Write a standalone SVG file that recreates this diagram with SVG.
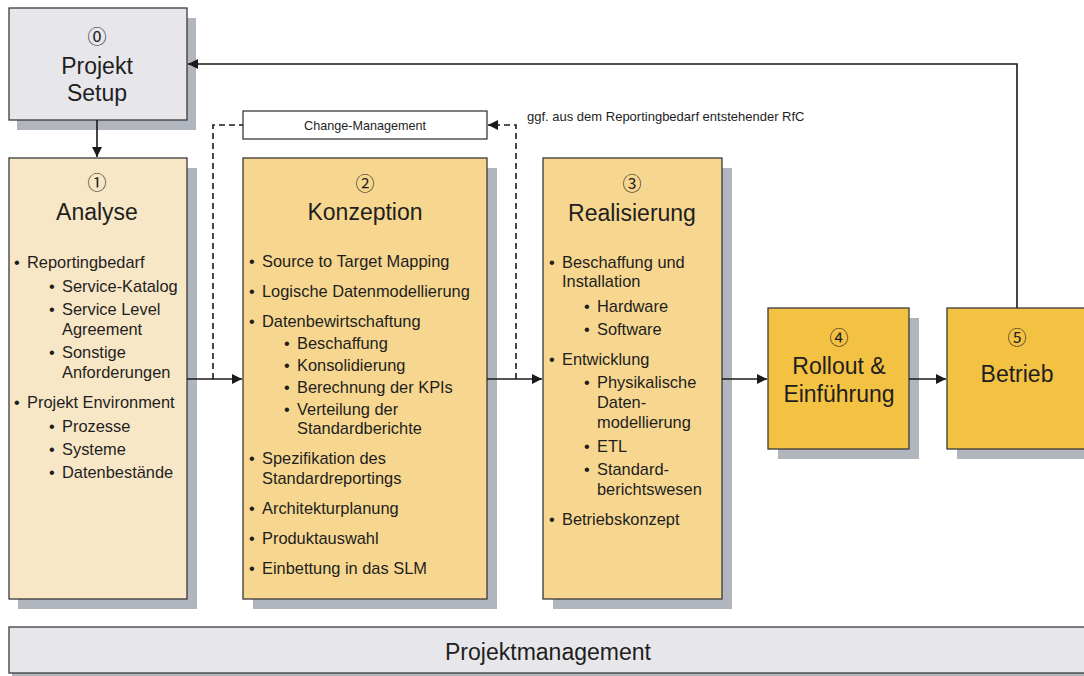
<svg xmlns="http://www.w3.org/2000/svg" width="1084" height="676" viewBox="0 0 1084 676">
<defs>
<marker id="ah" viewBox="0 0 10 10" refX="10" refY="5" markerWidth="10" markerHeight="10" markerUnits="userSpaceOnUse" orient="auto">
<path d="M0,0 L10,5 L0,10 z" fill="#1a1a1a"/>
</marker>
<style>
.box{stroke:#3a3a3a;stroke-width:1.3}
.sh{fill:#b1b5bd}
.grey{fill:#e7e7eb}
.light{fill:#f8e7c6}
.mid{fill:#f7d78f}
.dark{fill:#f4c243}
.t{font-family:"Liberation Sans",Arial,sans-serif;fill:#1e1e1e}
.title{font-size:23px;text-anchor:middle}
.num{font-family:"Noto Sans CJK JP","DejaVu Sans",sans-serif;font-size:19px;text-anchor:middle;fill:#1e1e1e}
.li{font-size:16.4px}
.small{font-size:12.6px}
.conn{stroke:#1a1a1a;stroke-width:1.6;fill:none}
.dash{stroke-dasharray:6,4}
</style>
</defs>
<rect width="1084" height="676" fill="#ffffff"/>

<g id="projekt-setup">
<rect class="sh" x="17" y="18" width="179" height="112"/>
<rect class="box grey" x="9" y="8" width="178" height="112"/>
<text class="num" x="97" y="44">⓪</text>
<text class="t title" x="97" y="74">Projekt</text>
<text class="t title" x="97" y="101">Setup</text>
</g>

<g id="change-management">
<rect class="box" x="243" y="111" width="244" height="28" fill="#ffffff"/>
<text class="t small" x="365" y="130" text-anchor="middle">Change-Management</text>
</g>

<g id="rfc-note">
<text class="t" x="527" y="121" font-size="13px">ggf. aus dem Reportingbedarf entstehender RfC</text>
</g>

<g id="analyse">
<rect class="sh" x="18" y="168" width="179" height="441"/>
<rect class="box light" x="9" y="158" width="178" height="441"/>
<text class="num" x="97" y="190">①</text>
<text class="t title" x="97" y="220">Analyse</text>
<g class="t li">
<text x="14" y="268">•</text><text x="27" y="268">Reportingbedarf</text>
<text x="49" y="292">•</text><text x="62" y="292">Service-Katalog</text>
<text x="49" y="315">•</text><text x="62" y="315">Service Level</text>
<text x="62" y="335">Agreement</text>
<text x="49" y="358">•</text><text x="62" y="358">Sonstige</text>
<text x="62" y="378">Anforderungen</text>
<text x="14" y="408">•</text><text x="27" y="408">Projekt Environment</text>
<text x="49" y="432">•</text><text x="62" y="432">Prozesse</text>
<text x="49" y="455">•</text><text x="62" y="455">Systeme</text>
<text x="49" y="478">•</text><text x="62" y="478">Datenbestände</text>
</g>
</g>

<g id="konzeption">
<rect class="sh" x="253" y="168" width="244" height="441"/>
<rect class="box mid" x="243" y="158" width="244" height="441"/>
<text class="num" x="365" y="191">②</text>
<text class="t title" x="365" y="220">Konzeption</text>
<g class="t li">
<text x="249" y="267">•</text><text x="262" y="267">Source to Target Mapping</text>
<text x="249" y="297">•</text><text x="262" y="297">Logische Datenmodellierung</text>
<text x="249" y="327">•</text><text x="262" y="327">Datenbewirtschaftung</text>
<text x="284" y="349">•</text><text x="297" y="349">Beschaffung</text>
<text x="284" y="371">•</text><text x="297" y="371">Konsolidierung</text>
<text x="284" y="393">•</text><text x="297" y="393">Berechnung der KPIs</text>
<text x="284" y="415">•</text><text x="297" y="415">Verteilung der</text>
<text x="297" y="434">Standardberichte</text>
<text x="249" y="464">•</text><text x="262" y="464">Spezifikation des</text>
<text x="262" y="484">Standardreportings</text>
<text x="249" y="514">•</text><text x="262" y="514">Architekturplanung</text>
<text x="249" y="544">•</text><text x="262" y="544">Produktauswahl</text>
<text x="249" y="574">•</text><text x="262" y="574">Einbettung in das SLM</text>
</g>
</g>

<g id="realisierung">
<rect class="sh" x="553" y="168" width="179" height="441"/>
<rect class="box mid" x="543" y="158" width="179" height="441"/>
<text class="num" x="632" y="191">③</text>
<text class="t title" x="632" y="221">Realisierung</text>
<g class="t li">
<text x="549" y="268">•</text><text x="562" y="268">Beschaffung und</text>
<text x="562" y="287">Installation</text>
<text x="584" y="312">•</text><text x="597" y="312">Hardware</text>
<text x="584" y="335">•</text><text x="597" y="335">Software</text>
<text x="549" y="365">•</text><text x="562" y="365">Entwicklung</text>
<text x="584" y="388">•</text><text x="597" y="388">Physikalische</text>
<text x="597" y="408">Daten-</text>
<text x="597" y="428">modellierung</text>
<text x="584" y="452">•</text><text x="597" y="452">ETL</text>
<text x="584" y="475">•</text><text x="597" y="475">Standard-</text>
<text x="597" y="495">berichtswesen</text>
<text x="549" y="525">•</text><text x="562" y="525">Betriebskonzept</text>
</g>
</g>

<g id="rollout">
<rect class="sh" x="778" y="318" width="141" height="141"/>
<rect class="box dark" x="768" y="308" width="141" height="141"/>
<text class="num" x="839" y="345">④</text>
<text class="t title" x="839" y="374">Rollout &amp;</text>
<text class="t title" x="839" y="402">Einführung</text>
</g>

<g id="betrieb">
<rect class="sh" x="957" y="318" width="140" height="141"/>
<rect class="box dark" x="947" y="308" width="145" height="141"/>
<text class="num" x="1017" y="345">⑤</text>
<text class="t title" x="1017" y="382">Betrieb</text>
</g>

<g id="projektmanagement">
<rect class="sh" x="12" y="630" width="1080" height="46"/>
<rect class="box grey" x="9" y="627" width="1083" height="46"/>
<text class="t" x="548" y="660" font-size="23px" text-anchor="middle" textLength="206" lengthAdjust="spacingAndGlyphs">Projektmanagement</text>
</g>

<g id="connectors">
<line class="conn" x1="97" y1="120" x2="97" y2="157" marker-end="url(#ah)"/>
<line class="conn" x1="187" y1="379" x2="242" y2="379" marker-end="url(#ah)"/>
<line class="conn" x1="487" y1="379" x2="542" y2="379" marker-end="url(#ah)"/>
<line class="conn" x1="722" y1="379" x2="767" y2="379" marker-end="url(#ah)"/>
<line class="conn" x1="909" y1="379" x2="946" y2="379" marker-end="url(#ah)"/>
<polyline class="conn" points="1017,308 1017,64 188,64" marker-end="url(#ah)"/>
<polyline class="conn dash" points="213,379 213,125 243,125"/>
<polyline class="conn dash" points="516,379 516,125 488,125" marker-end="url(#ah)"/>
</g>
</svg>
